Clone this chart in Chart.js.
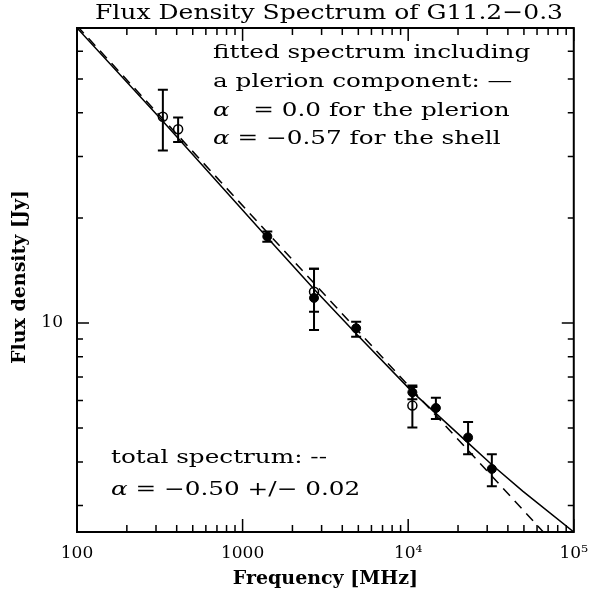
<!DOCTYPE html>
<html>
<head>
<meta charset="utf-8">
<script src="https://cdn.jsdelivr.net/npm/chart.js@4.4.1/dist/chart.umd.min.js"></script>
<style>
    html, body { margin: 0; padding: 0; background: #fff; }
</style>
</head>
<body>
<canvas id="spectrum_chart" width="599" height="598"></canvas>
<script>
// frequencies in MHz, flux densities in Jy
const open_freq = [330, 408, 2700, 10600];
const open_flux = [39.0, 35.9, 12.3, 5.80];
const open_lo = [31.2, 33.0, 10.78, 5.02];
const open_hi = [46.6, 38.8, 14.3, 6.56];

const filled_freq = [1410, 2700, 4850, 10600, 14700, 23000, 32000];
const filled_flux = [17.7, 11.8, 9.66, 6.33, 5.71, 4.70, 3.82];
const filled_lo = [17.1, 9.55, 9.14, 6.05, 5.31, 4.21, 3.41];
const filled_hi = [18.3, 14.3, 10.09, 6.62, 6.11, 5.21, 4.21];

// fitted spectrum with plerion component (solid)
const fit_freq = [100, 329, 1421, 2704, 4870, 10620, 14750, 23160, 32170, 49160, 100000];
const fit_flux = [70.0, 37.9, 17.5, 12.5, 9.30, 6.34, 5.50, 4.52, 3.92, 3.30, 2.52];

// total spectrum, alpha = -0.50 (dashed)
const total_freq = [100, 65500];
const total_flux = [71.0, 2.52];

const x_major = [100, 1000, 10000, 100000];
const x_minor = [200, 300, 400, 500, 600, 700, 800, 900,
    2000, 3000, 4000, 5000, 6000, 7000, 8000, 9000,
    20000, 30000, 40000, 50000, 60000, 70000, 80000, 90000];
const x_labels = ["100", "1000", "10\u2074", "10\u2075"];
const y_major = [10];
const y_minor = [3, 4, 5, 6, 7, 8, 9, 20, 30, 40, 50, 60];
const y_labels = ["10"];

const SERIF = "'DejaVu Serif', serif";

function pairs(xs, ys) {
    return xs.map((x, i) => ({x: x, y: ys[i]}));
}

// draws text runs left to right, stretched horizontally by sx
function drawRuns(ctx, x, y, runs, sx) {
    ctx.save();
    ctx.translate(x, y);
    ctx.scale(sx, 1);
    ctx.textAlign = "left";
    ctx.textBaseline = "middle";
    let cx = 0;
    runs.forEach(r => {
        ctx.font = r.font;
        ctx.fillText(r.t, cx, 0);
        cx += ctx.measureText(r.t).width;
    });
    ctx.restore();
}

function drawFitted(ctx, text, cx, cy, width) {
    const w = ctx.measureText(text).width;
    ctx.save();
    ctx.translate(cx, cy);
    ctx.scale(width / w, 1);
    ctx.textAlign = "center";
    ctx.textBaseline = "middle";
    ctx.fillText(text, 0, 0);
    ctx.restore();
}

const frame_plugin = {
    id: "frame_plugin",
    afterDatasetsDraw(chart) {
        const ctx = chart.ctx;
        const a = chart.chartArea;
        const xs = chart.scales.x;
        const ys = chart.scales.y;
        ctx.save();
        ctx.strokeStyle = "#000";
        ctx.fillStyle = "#000";

        // error bars
        ctx.lineWidth = 2;
        const bars = (fr, lo, hi) => {
            fr.forEach((f, i) => {
                const px = xs.getPixelForValue(f);
                const y1 = ys.getPixelForValue(lo[i]);
                const y2 = ys.getPixelForValue(hi[i]);
                ctx.beginPath();
                ctx.moveTo(px, y1); ctx.lineTo(px, y2);
                ctx.moveTo(px - 5, y1); ctx.lineTo(px + 5, y1);
                ctx.moveTo(px - 5, y2); ctx.lineTo(px + 5, y2);
                ctx.stroke();
            });
        };
        bars(open_freq, open_lo, open_hi);
        bars(filled_freq, filled_lo, filled_hi);

        // frame
        ctx.lineWidth = 2;
        ctx.strokeRect(a.left, a.top, a.right - a.left, a.bottom - a.top);

        // tick marks on all four sides
        ctx.lineWidth = 1.5;
        ctx.beginPath();
        const xt = (v, len) => {
            const px = xs.getPixelForValue(v);
            ctx.moveTo(px, a.bottom); ctx.lineTo(px, a.bottom - len);
            ctx.moveTo(px, a.top); ctx.lineTo(px, a.top + len);
        };
        const yt = (v, len) => {
            const py = ys.getPixelForValue(v);
            ctx.moveTo(a.left, py); ctx.lineTo(a.left + len, py);
            ctx.moveTo(a.right, py); ctx.lineTo(a.right - len, py);
        };
        x_major.forEach(v => xt(v, 13));
        x_minor.forEach(v => xt(v, 7));
        y_major.forEach(v => yt(v, 12));
        y_minor.forEach(v => yt(v, 6));
        ctx.stroke();

        // title and axis titles
        ctx.font = "21px " + SERIF;
        drawFitted(ctx, "Flux Density Spectrum of G11.2\u22120.3", 329, 14, 468);

        ctx.textAlign = "center";
        ctx.textBaseline = "middle";
        ctx.font = "bold 19px " + SERIF;
        ctx.fillText("Frequency [MHz]", (a.left + a.right) / 2, 579);
        ctx.save();
        ctx.translate(20, (a.top + a.bottom) / 2 - 3);
        ctx.rotate(-Math.PI / 2);
        ctx.fillText("Flux density [Jy]", 0, 0);
        ctx.restore();

        // annotations
        const f = "19px " + SERIF;
        const fi = "italic 19px " + SERIF;
        const sx = 1.3;
        drawRuns(ctx, 213, 53, [{t: "fitted spectrum including", font: f}], sx);
        drawRuns(ctx, 213, 82, [{t: "a plerion component: \u2014", font: f}], sx);
        drawRuns(ctx, 213, 111, [{t: "\u03b1", font: fi}, {t: "   = 0.0 for the plerion", font: f}], sx);
        drawRuns(ctx, 213, 139, [{t: "\u03b1", font: fi}, {t: " = \u22120.57 for the shell", font: f}], sx);
        drawRuns(ctx, 111, 458, [{t: "total spectrum: --", font: f}], sx);
        drawRuns(ctx, 111, 490, [{t: "\u03b1", font: fi}, {t: " = \u22120.50 +/\u2212 0.02", font: f}], sx);
        ctx.restore();
    }
};

const ctx_spectrum = document.getElementById("spectrum_chart").getContext("2d");
const spectrum_chart = new Chart(ctx_spectrum, {
    type: "line",
    data: {
        datasets: [{
            label: "fit",
            data: pairs(fit_freq, fit_flux),
            borderColor: "#000",
            borderWidth: 1.5,
            pointRadius: 0,
            fill: false
        }, {
            label: "total",
            data: pairs(total_freq, total_flux),
            borderColor: "#000",
            borderWidth: 1.5,
            borderDash: [10, 7],
            pointRadius: 0,
            fill: false
        }, {
            label: "open",
            data: pairs(open_freq, open_flux),
            showLine: false,
            pointRadius: 4.5,
            pointBorderWidth: 1.5,
            pointBorderColor: "#000",
            pointBackgroundColor: "rgba(0,0,0,0)"
        }, {
            label: "filled",
            data: pairs(filled_freq, filled_flux),
            showLine: false,
            pointRadius: 4.5,
            pointBorderWidth: 1,
            pointBorderColor: "#000",
            pointBackgroundColor: "#000"
        }]
    },
    options: {
        responsive: false,
        animation: false,
        events: [],
        layout: { padding: { top: 28, right: 17, left: 0, bottom: 0 } },
        plugins: { legend: { display: false }, tooltip: { enabled: false } },
        scales: {
            x: {
                type: "logarithmic",
                min: 100,
                max: 100000,
                grid: { display: false, drawTicks: false },
                border: { display: false },
                afterBuildTicks(scale) { scale.ticks = x_major.map(v => ({value: v})); },
                afterFit(scale) { scale.height = 66; },
                ticks: {
                    color: "#000",
                    padding: 11,
                    maxRotation: 0,
                    font: { family: "DejaVu Serif", size: 17 },
                    callback: (v) => x_labels[x_major.indexOf(v)]
                }
            },
            y: {
                type: "logarithmic",
                min: 2.52,
                max: 70,
                grid: { display: false, drawTicks: false },
                border: { display: false },
                afterBuildTicks(scale) { scale.ticks = y_major.map(v => ({value: v})); },
                afterFit(scale) { scale.width = 77; },
                ticks: {
                    color: "#000",
                    padding: 14,
                    font: { family: "DejaVu Serif", size: 17 },
                    callback: (v) => y_labels[y_major.indexOf(v)]
                }
            }
        }
    },
    plugins: [frame_plugin]
});
</script>
</body>
</html>
